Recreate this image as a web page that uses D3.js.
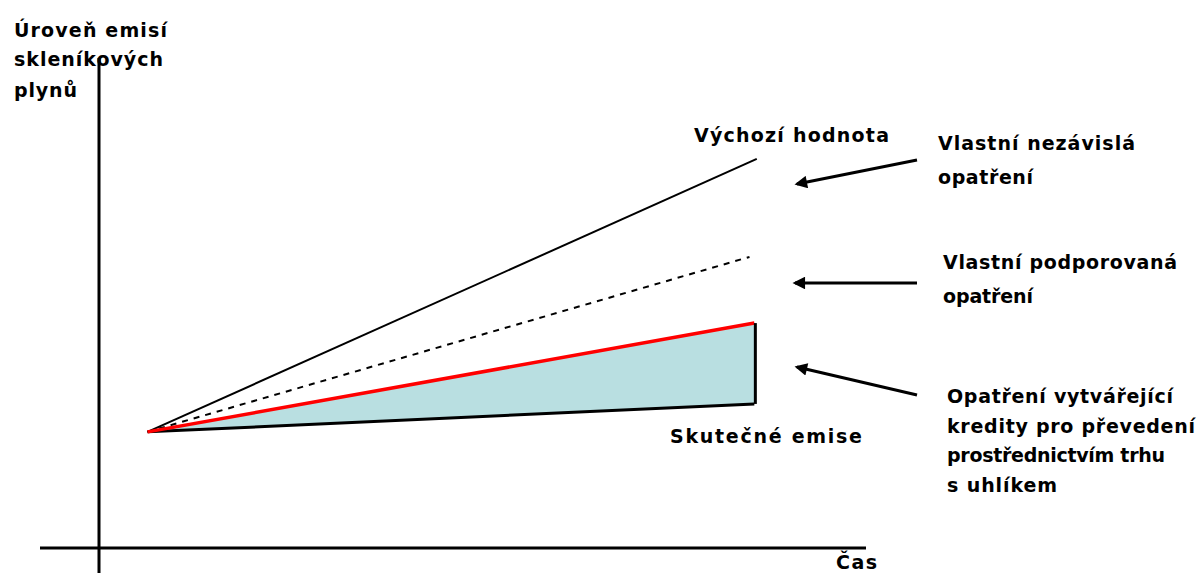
<!DOCTYPE html>
<html>
<head>
<meta charset="utf-8">
<script src="https://cdn.jsdelivr.net/npm/d3@7"></script>
<style>
  html, body { margin: 0; padding: 0; background: #fff; }
  svg { display: block; }
  text { font-family: "DejaVu Sans", Verdana, sans-serif; font-weight: bold; font-size: 19px; fill: #000; }
</style>
</head>
<body>
<div id="chart"></div>
<script>
// Conceptual chart: emission level over time, four scenarios from one start point
const SERIES_NAMES  = ["baseline", "supported", "credits", "actual"];
const SERIES_START  = [1, 2.37];                 // shared start point [time, level]
const SERIES_END_T  = [13.55, 13.4, 13.5, 13.5]; // end time per series
const SERIES_END_V  = [7.94, 5.94, 4.59, 2.94];  // end level per series

const AXIS_Y_LABEL  = ["Úroveň emisí", "skleníkových", "plynů"];
const AXIS_X_LABEL  = "Čas";
const LABEL_BASELINE = "Výchozí hodnota";
const LABEL_ACTUAL   = "Skutečné emise";
const NOTE_1 = ["Vlastní nezávislá", "opatření"];
const NOTE_2 = ["Vlastní podporovaná", "opatření"];
const NOTE_3 = ["Opatření vytvářející", "kredity pro převedení", "prostřednictvím trhu", "s uhlíkem"];

const W = 1197, H = 573;
const svg = d3.select("#chart").append("svg").attr("width", W).attr("height", H);

// scales: origin of the axes at (0,0)
const x = d3.scaleLinear().domain([0, 15.8]).range([99, 866]);
const y = d3.scaleLinear().domain([0, 10]).range([548, 58]);

const defs = svg.append("defs");
defs.append("marker")
    .attr("id", "head")
    .attr("viewBox", "0 0 10 10")
    .attr("refX", 8).attr("refY", 5)
    .attr("markerWidth", 5).attr("markerHeight", 4.2)
    .attr("markerUnits", "strokeWidth")
    .attr("orient", "auto")
  .append("path")
    .attr("d", "M0,0 L10,5 L0,10 Z")
    .attr("fill", "#000");

const pts = i => [SERIES_START, [SERIES_END_T[i], SERIES_END_V[i]]];
const line = d3.line().x(d => x(d[0])).y(d => y(d[1]));

// ── shaded band between credits line and actual emissions ──
const area = d3.area()
    .x(d => x(d[0]))
    .y0(d => y(d[2]))
    .y1(d => y(d[1]));
const band = [
  [SERIES_START[0], SERIES_START[1], SERIES_START[1]],
  [SERIES_END_T[2], SERIES_END_V[2], SERIES_END_V[3]]
];
svg.append("path").attr("d", area(band)).attr("fill", "#b9dfe1");

// ── axes ──
svg.append("line")
    .attr("x1", x(0)).attr("x2", x(0))
    .attr("y1", y(10)).attr("y2", H)
    .attr("stroke", "#000").attr("stroke-width", 3);
svg.append("line")
    .attr("x1", 40).attr("x2", x(15.8))
    .attr("y1", y(0)).attr("y2", y(0))
    .attr("stroke", "#000").attr("stroke-width", 3);

// ── scenario lines ──
const styles = {
  baseline:  { stroke: "#000", width: 2, dash: null },
  supported: { stroke: "#000", width: 2, dash: "6,6" },
  actual:    { stroke: "#000", width: 3, dash: null },
  credits:   { stroke: "#ff0000", width: 3.5, dash: null }
};
["baseline", "supported", "actual", "credits"].forEach(name => {
  const i = SERIES_NAMES.indexOf(name);
  const s = styles[name];
  svg.append("path")
      .attr("d", line(pts(i)))
      .attr("fill", "none")
      .attr("stroke", s.stroke)
      .attr("stroke-width", s.width)
      .attr("stroke-dasharray", s.dash);
});

// right edge of the band
svg.append("line")
    .attr("x1", x(SERIES_END_T[2]) + 1).attr("x2", x(SERIES_END_T[2]) + 1)
    .attr("y1", y(SERIES_END_V[2])).attr("y2", y(SERIES_END_V[3]))
    .attr("stroke", "#000").attr("stroke-width", 3);

// ── arrows pointing at the gaps ──
const arrows = [
  [[917, 160], [797, 184]],
  [[917, 283], [795, 283]],
  [[917, 395], [797, 367]]
];
arrows.forEach(a => {
  svg.append("line")
      .attr("x1", a[0][0]).attr("y1", a[0][1])
      .attr("x2", a[1][0]).attr("y2", a[1][1])
      .attr("stroke", "#000").attr("stroke-width", 3)
      .attr("marker-end", "url(#head)");
});

// ── text ──
function label(txt, x0, x1, base) {
  svg.append("text")
      .attr("x", x0).attr("y", base)
      .attr("textLength", x1 - x0)
      .attr("lengthAdjust", "spacing")
      .text(txt);
}
const yLabelPos = [[14, 167, 37], [14, 163, 66], [14, 77, 97]];
AXIS_Y_LABEL.forEach((t, i) => label(t, ...yLabelPos[i]));

label(LABEL_BASELINE, 694, 889, 142);
label(LABEL_ACTUAL, 670, 862, 443);
label(AXIS_X_LABEL, 836, 877, 569);

const n1Pos = [[938, 1135, 150], [938, 1033, 184]];
NOTE_1.forEach((t, i) => label(t, ...n1Pos[i]));
const n2Pos = [[943, 1177, 269], [943, 1033, 303]];
NOTE_2.forEach((t, i) => label(t, ...n2Pos[i]));
const n3Pos = [[947, 1173, 403], [947, 1195, 433], [947, 1165, 462], [947, 1057, 492]];
NOTE_3.forEach((t, i) => label(t, ...n3Pos[i]));
</script>
</body>
</html>
